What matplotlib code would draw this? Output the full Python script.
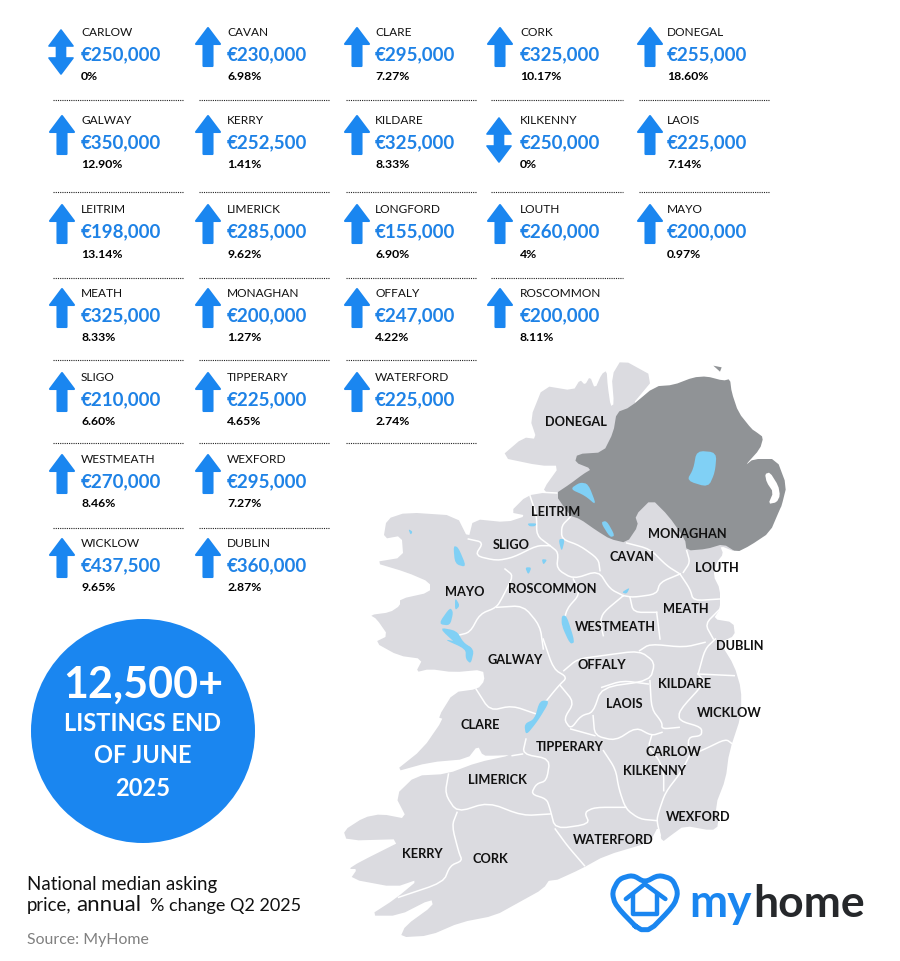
import matplotlib
matplotlib.use("Agg")
import numpy as np
import matplotlib.pyplot as plt
from matplotlib.patches import Polygon, Circle

plt.rcParams["font.family"] = "Lato"

BLUE = "#1a86f0"
PRICE_BLUE = "#1e82e6"
LAND = "#dbdbe0"
NI_GREY = "#909396"
LAKE = "#80d0f5"

# table values
counties = ["CARLOW", "CAVAN", "CLARE", "CORK", "DONEGAL",
            "GALWAY", "KERRY", "KILDARE", "KILKENNY", "LAOIS",
            "LEITRIM", "LIMERICK", "LONGFORD", "LOUTH", "MAYO",
            "MEATH", "MONAGHAN", "OFFALY", "ROSCOMMON",
            "SLIGO", "TIPPERARY", "WATERFORD",
            "WESTMEATH", "WEXFORD",
            "WICKLOW", "DUBLIN"]
prices = [250000, 230000, 295000, 325000, 255000,
          350000, 252500, 325000, 250000, 225000,
          198000, 285000, 155000, 260000, 200000,
          325000, 200000, 247000, 200000,
          210000, 225000, 225000,
          270000, 295000,
          437500, 360000]
changes = ["0%", "6.98%", "7.27%", "10.17%", "18.60%",
           "12.90%", "1.41%", "8.33%", "0%", "7.14%",
           "13.14%", "9.62%", "6.90%", "4%", "0.97%",
           "8.33%", "1.27%", "4.22%", "8.11%",
           "6.60%", "4.65%", "2.74%",
           "8.46%", "7.27%",
           "9.65%", "2.87%"]
row_sizes = [5, 5, 5, 4, 3, 2, 2]

# layout of the table, in image pixels
col_text = [81, 227, 375, 520, 667]
col_arrow = [62, 208, 357, 500, 650]
col_rule = [(53, 183), (199, 330), (346, 477), (491, 623), (639, 770)]
row_name = [32, 120, 209, 293, 377, 459, 543]
rule_y = [101, 193, 279, 361, 444, 529]
rule_cols = [5, 5, 4, 3, 3, 2]

map_labels = ["DONEGAL", "LEITRIM", "SLIGO", "MAYO", "ROSCOMMON", "MONAGHAN", "CAVAN",
              "LOUTH", "MEATH", "WESTMEATH", "DUBLIN", "GALWAY", "OFFALY", "KILDARE",
              "LAOIS", "WICKLOW", "CLARE", "TIPPERARY", "CARLOW", "KILKENNY", "LIMERICK",
              "WEXFORD", "WATERFORD", "KERRY", "CORK"]
label_xy = [(576, 422), (556, 511), (511, 545), (465, 592), (552, 589), (687, 534), (632, 557),
            (717, 568), (686, 609), (615, 627), (740, 646), (515, 660), (602, 665), (685, 684),
            (624, 704), (729, 713), (480, 725), (570, 747), (673, 752), (654, 771), (497, 780),
            (698, 817), (613, 840), (422, 854), (490, 859)]

# map shapes (crop coordinates, converted below)
def north(pts):
    return [(x / 3 + 340, y / 3 + 350) for x, y in pts]

def south(pts):
    return [(x / 2.904 + 340, y / 3 + 640) for x, y in pts]

# corner cutting so the traced outlines are not so angular
def smooth(pts, closed=True, n=1):
    pts = np.array(pts, dtype=float)
    for _ in range(n):
        nxt = np.roll(pts, -1, axis=0)
        a = 0.8 * pts + 0.2 * nxt
        b = 0.2 * pts + 0.8 * nxt
        if closed:
            pts = np.column_stack([a, b]).reshape(-1, 2)
        else:
            mid = np.column_stack([a[:-1], b[:-1]]).reshape(-1, 2)
            pts = np.vstack([pts[0], mid, pts[-1]])
    return pts

ireland = north([(845, 30), (945, 85), (870, 175), (945, 112), (1100, 300), (1190, 610), (1140, 590),
                 (1150, 615), (1130, 640), (1120, 680), (1140, 720), (1140, 780), (1120, 810),
                 (1180, 820), (1185, 860), (1140, 880)]) + \
    south([(1145, 80), (1165, 150), (1165, 230), (1130, 340), (1120, 420), (1090, 500), (1100, 560),
           (1080, 575), (1000, 560), (960, 590), (935, 610), (925, 560), (900, 610), (770, 650),
           (700, 690), (615, 730), (550, 710), (615, 712), (590, 750), (520, 790), (450, 830),
           (350, 850), (260, 890), (175, 895), (190, 860), (270, 800), (265, 780), (170, 830),
           (85, 830), (160, 780), (230, 720), (160, 745), (30, 720), (50, 690), (25, 690),
           (55, 670), (190, 600), (20, 605), (10, 575), (70, 535), (120, 525), (195, 540),
           (160, 470), (220, 410), (310, 405), (400, 370), (500, 348), (450, 350), (415, 350),
           (400, 320), (370, 360), (260, 370), (155, 400), (240, 330), (300, 240), (285, 235),
           (330, 160), (400, 150), (420, 125), (415, 92), (330, 100), (260, 90), (220, 100),
           (240, 60), (170, 50), (100, 10), (140, -10)]) + \
    north([(110, 810), (90, 798), (150, 790), (180, 770), (180, 750), (270, 730), (270, 700),
           (200, 670), (100, 640), (190, 625), (185, 560), (130, 570), (140, 510), (200, 490),
           (350, 500), (385, 570), (400, 510), (500, 520), (560, 500), (510, 490), (560, 440),
           (620, 430), (610, 420), (660, 350), (600, 350), (480, 325), (550, 265), (590, 270),
           (570, 210), (610, 110), (700, 125), (720, 92), (735, 108), (750, 82), (765, 120),
           (785, 75), (800, 65), (803, 110), (812, 172), (822, 165), (815, 80)])

ni = north([(945, 112), (1000, 108), (1060, 85), (1100, 82), (1150, 95), (1170, 90), (1175, 130),
            (1195, 190), (1235, 240), (1250, 250), (1270, 265), (1260, 300), (1215, 350),
            (1240, 330), (1310, 330), (1340, 410), (1325, 470), (1320, 480), (1290, 550),
            (1230, 590), (1190, 610), (1150, 585), (1100, 600), (1040, 605), (1035, 570),
            (985, 500), (935, 450), (885, 500), (895, 530), (860, 582), (810, 570), (770, 545),
            (720, 510), (690, 500), (645, 435), (690, 405), (730, 375), (755, 360), (705, 340),
            (712, 315), (790, 310), (820, 250), (830, 190), (870, 175)])
rathlin = north([(1120, 50), (1145, 55), (1140, 68)])
strangford = north([(1275, 375), (1290, 370), (1315, 410), (1320, 440), (1310, 460), (1285, 465),
                    (1300, 430), (1280, 400)])

lakes = [north([(1070, 305), (1130, 310), (1125, 370), (1105, 415), (1040, 395), (1060, 360)]),
         north([(690, 420), (720, 400), (745, 405), (770, 470), (735, 440)]),
         north([(782, 520), (800, 515), (825, 560), (810, 565)]),
         north([(562, 523), (590, 523), (585, 532), (568, 532)]),
         north([(655, 570), (675, 570), (665, 610)]),
         north([(605, 630), (622, 632), (610, 648)]),
         north([(555, 655), (575, 655), (565, 678)]),
         north([(205, 540), (218, 548), (212, 558)]),
         north([(340, 590), (355, 595), (380, 655), (345, 645)]),
         north([(345, 745), (360, 770), (345, 785)]),
         north([(330, 775), (295, 825), (330, 830), (340, 790)]),
         north([(295, 835), (350, 845), (370, 880), (400, 900), (360, 895)]),
         south([(300, 0), (350, 10), (390, 30), (380, 75), (365, 60), (365, 30)]),
         north([(665, 800), (680, 800), (705, 880), (690, 885), (665, 830)]),
         north([(845, 730), (870, 715), (860, 735)]),
         south([(580, 185), (610, 185), (575, 245), (540, 290), (535, 255), (565, 240)])]

county_lines = [north([(610, 430), (650, 432)]),
                north([(570, 440), (590, 500), (590, 560), (630, 590)]),
                north([(690, 505), (665, 530), (665, 570), (720, 590), (775, 630), (780, 665)]),
                north([(385, 570), (430, 580), (405, 620), (470, 635), (520, 625), (590, 590), (630, 590)]),
                north([(630, 590), (655, 610), (650, 660), (700, 690), (775, 665), (810, 720), (850, 740)]),
                north([(860, 582), (930, 600), (980, 650), (1020, 675)]),
                north([(1020, 675), (960, 700), (950, 735), (880, 745), (850, 740)]),
                north([(1040, 605), (1050, 640), (1030, 670)]),
                north([(1020, 675), (1050, 720), (1060, 755), (1140, 750)]),
                north([(495, 660), (520, 680), (490, 740), (470, 775), (420, 795), (390, 850), (350, 860)]),
                north([(470, 775), (550, 770), (600, 830), (610, 900)]),
                north([(700, 690), (720, 735), (680, 780), (670, 830)]),
                north([(850, 740), (790, 790), (780, 820), (790, 860)]),
                north([(950, 790), (960, 870)]),
                north([(870, 745), (880, 790), (950, 790)]),
                north([(1140, 780), (1095, 825), (1120, 870)]),
                south([(590, 0), (620, 90), (660, 115), (635, 140), (580, 210)]),
                south([(395, 150), (435, 215), (500, 200), (570, 225)]),
                south([(650, 95), (690, 60), (760, 50), (870, 35), (915, 70), (900, 125), (760, 145),
                       (735, 220), (700, 230), (670, 270), (650, 240), (680, 190), (640, 140)]),
                south([(870, 35), (900, 15), (1000, 25), (1060, 10)]),
                south([(1040, 105), (1145, 110)]),
                south([(1040, 105), (1060, 30), (1090, 0)]),
                south([(1040, 105), (1060, 130), (985, 215), (985, 245), (1050, 265), (1050, 290),
                       (1010, 295), (1015, 350), (1060, 330), (1120, 300), (1140, 315)]),
                south([(900, 125), (905, 210), (935, 250), (935, 270), (985, 265)]),
                south([(760, 145), (820, 125), (895, 135)]),
                south([(735, 230), (740, 290), (800, 305), (860, 265), (905, 290), (935, 280)]),
                south([(905, 290), (895, 325), (925, 360), (940, 400), (940, 455)]),
                south([(1015, 350), (990, 400), (945, 460), (925, 520), (920, 545), (930, 590)]),
                south([(765, 335), (800, 390), (810, 450), (830, 510), (870, 540), (920, 545)]),
                south([(830, 505), (740, 505), (710, 520), (725, 555), (625, 570), (610, 510), (600, 480),
                       (555, 465), (570, 435), (600, 425), (610, 360), (530, 345), (540, 300)]),
                south([(670, 270), (740, 290)]),
                south([(500, 350), (530, 345)]),
                south([(315, 405), (305, 465), (340, 520), (430, 490), (530, 530), (610, 525)]),
                south([(340, 520), (325, 560), (345, 640), (355, 665), (320, 680), (300, 730), (170, 775)]),
                south([(625, 570), (660, 620), (710, 680)])]

heart = south([(885, 890), (800, 800), (790, 760), (810, 720), (850, 708), (885, 730), (925, 708),
               (965, 720), (982, 760), (970, 800)])
roof = south([(830, 780), (885, 735), (945, 780)])
house = south([(852, 765), (852, 825), (920, 825), (920, 765)])


def up_arrow(ax, x, top):
    pts = [(x, top), (x + 12, top + 16), (x + 4.5, top + 16), (x + 4.5, top + 38),
           (x - 4.5, top + 38), (x - 4.5, top + 16), (x - 12, top + 16)]
    ax.add_patch(Polygon(pts, closed=True, fc=BLUE, ec=BLUE, lw=1.5, joinstyle="round"))


def flat_arrow(ax, x, top):
    pts = [(x, top), (x + 12, top + 16), (x + 4.5, top + 16), (x + 4.5, top + 28), (x + 12, top + 28),
           (x, top + 44), (x - 12, top + 28), (x - 4.5, top + 28), (x - 4.5, top + 16), (x - 12, top + 16)]
    ax.add_patch(Polygon(pts, closed=True, fc=BLUE, ec=BLUE, lw=1.2, joinstyle="round"))


fig = plt.figure(figsize=(9, 9.62), dpi=100)
ax = fig.add_axes([0, 0, 1, 1])
ax.set_xlim(0, 900)
ax.set_ylim(962, 0)
ax.axis("off")

# map
ax.add_patch(Polygon(smooth(ireland), closed=True, fc=LAND, ec="none", zorder=1))
ax.add_patch(Polygon(smooth(ni), closed=True, fc=NI_GREY, ec="none", zorder=2))
ax.add_patch(Polygon(rathlin, closed=True, fc=NI_GREY, ec="none", zorder=2))
ax.add_patch(Polygon(smooth(strangford), closed=True, fc="white", ec="none", zorder=3))
for line in county_lines:
    pts = smooth(line, closed=False, n=2)
    ax.plot(pts[:, 0], pts[:, 1], color="white", lw=1.1, zorder=3, solid_joinstyle="round")
for lake in lakes:
    ax.add_patch(Polygon(smooth(lake, n=2), closed=True, fc=LAKE, ec="none", zorder=4))
for name, (x, y) in zip(map_labels, label_xy):
    ax.text(x, y + 0.5, name, fontsize=9.2, color="#111111", ha="center", va="center", zorder=5, fontweight="bold")

# table
i = 0
for r, n in enumerate(row_sizes):
    for c in range(n):
        y = row_name[r]
        ax.text(col_text[c], y + 0.5, counties[i], fontsize=8.6, color="#111111", va="center")
        ax.text(col_text[c], y + 23, "€{:,}".format(prices[i]), fontsize=13.5, color=PRICE_BLUE,
                va="center", fontweight="bold")
        ax.text(col_text[c], y + 45, changes[i], fontsize=8.8, color="black", va="center", fontweight="bold")
        if changes[i] == "0%":
            flat_arrow(ax, col_arrow[c] - 1, y - 1)
        else:
            up_arrow(ax, col_arrow[c], y - 3)
        i += 1
for y, n in zip(rule_y, rule_cols):
    for x0, x1 in col_rule[:n]:
        ax.plot([x0, x1], [y, y], color="#222222", lw=0.8, ls=(0, (1, 1)))

# callout
ax.add_patch(Circle((143, 732), 112, fc=BLUE, ec="none"))
ax.text(143, 685, "12,500+", fontsize=31, color="white", ha="center", va="center", fontweight="bold")
ax.text(143, 724, "LISTINGS END", fontsize=17, color="white", ha="center", va="center", fontweight="bold")
ax.text(143, 756, "OF JUNE", fontsize=17, color="white", ha="center", va="center", fontweight="bold")
ax.text(143, 789, "2025", fontsize=17, color="white", ha="center", va="center", fontweight="bold")

# caption
ax.text(27, 885, "National median asking", fontsize=13.4, color="#111111", va="center")
ax.text(27, 906, "price,", fontsize=13.4, color="#111111", va="center")
ax.text(76, 905, "annual", fontsize=16, color="#111111", va="center")
ax.text(150, 906, "% change Q2 2025", fontsize=13, color="#111111", va="center")
ax.text(27, 940, "Source: MyHome", fontsize=11.4, color="#808080", va="center")

# logo
pts = smooth(heart, n=2)
ax.plot(np.append(pts[:, 0], pts[0, 0]), np.append(pts[:, 1], pts[0, 1]), color=BLUE, lw=3.6,
        solid_joinstyle="round", zorder=6)
for shape in [roof, house]:
    xs, ys = zip(*shape)
    ax.plot(xs, ys, color=BLUE, lw=3.2, solid_joinstyle="round", solid_capstyle="round", zorder=6)
ax.text(689, 917, "my", fontsize=33, color=BLUE, va="baseline", fontweight="bold", zorder=6)
ax.text(753, 917, "home", fontsize=32, color="#26282b", va="baseline", fontweight="bold", zorder=6)

fig.savefig("out.png", dpi=100)
